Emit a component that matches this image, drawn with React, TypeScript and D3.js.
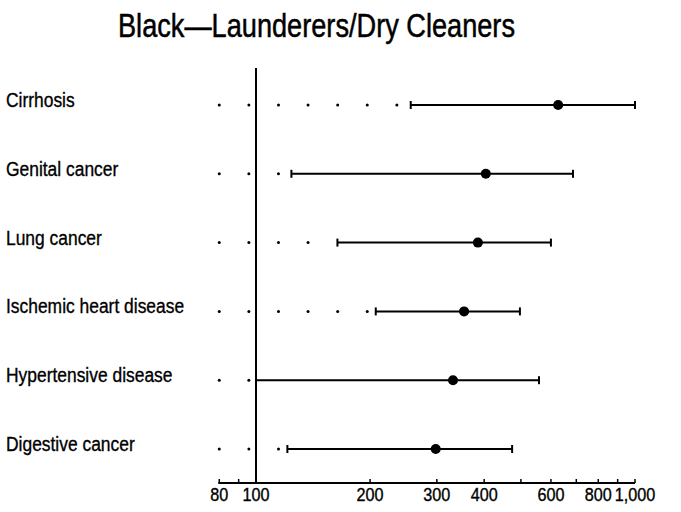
import React, { useEffect, useRef } from "react";
import * as d3 from "d3";

const causes = [
  "Cirrhosis",
  "Genital cancer",
  "Lung cancer",
  "Ischemic heart disease",
  "Hypertensive disease",
  "Digestive cancer",
];
const estimates = [627, 404, 385, 354, 331, 298];
const lowerBounds = [256, 124, 164, 207, 100, 121];
const upperBounds = [1000, 686, 600, 497, 558, 474];

const tickValues = [80, 90, 100, 200, 300, 400, 500, 600, 700, 800, 900, 1000];
const tickLabels = ["80", "100", "200", "300", "400", "600", "800", "1,000"];
const labelValues = [80, 100, 200, 300, 400, 600, 800, 1000];

const title = "Black\u2014Launderers/Dry Cleaners";
const FONT = "'Liberation Sans', Arial, sans-serif";

function App() {
  const ref = useRef<SVGSVGElement>(null);

  useEffect(() => {
    const svg = d3.select(ref.current);
    svg.selectAll("*").remove();

    const x = d3.scaleLog().domain([100, 1000]).range([256, 635]);
    const y = d3.scalePoint<string>().domain(causes).range([105, 449]);
    const axisY = 483;

    // title
    svg.append("text")
      .attr("x", 118)
      .attr("y", 37)
      .attr("font-family", FONT)
      .attr("font-size", 33)
      .attr("stroke", "#000")
      .attr("stroke-width", 0.5)
      .attr("textLength", 397)
      .attr("lengthAdjust", "spacingAndGlyphs")
      .text(title);

    // reference line at 100
    svg.append("line")
      .attr("x1", x(100)).attr("x2", x(100))
      .attr("y1", 68).attr("y2", axisY)
      .attr("stroke", "#000").attr("stroke-width", 2);

    // axis
    svg.append("line")
      .attr("x1", x(80) - 1).attr("x2", x(1000))
      .attr("y1", axisY).attr("y2", axisY)
      .attr("stroke", "#000").attr("stroke-width", 2);

    svg.selectAll(".tick")
      .data(tickValues)
      .join("line")
      .attr("class", "tick")
      .attr("x1", d => x(d)).attr("x2", d => x(d))
      .attr("y1", axisY).attr("y2", axisY - 4)
      .attr("stroke", "#000").attr("stroke-width", 1.5);

    svg.selectAll(".tlabel")
      .data(labelValues)
      .join("g")
      .attr("class", "tlabel")
      .attr("transform", d => `translate(${x(d)},501) scale(0.9,1)`)
      .append("text")
      .attr("text-anchor", "middle")
      .attr("font-family", FONT)
      .attr("font-size", 18)
      .attr("stroke", "#000")
      .attr("stroke-width", 0.35)
      .text((d, i) => tickLabels[i]);

    const rows = causes.map((c, i) => ({
      cause: c,
      est: estimates[i],
      lo: lowerBounds[i],
      hi: upperBounds[i],
    }));

    const g = svg.selectAll(".row").data(rows).join("g").attr("class", "row");

    g.append("g")
      .attr("transform", d => `translate(6,${y(d.cause)! + 2}) scale(0.83,1)`)
      .append("text")
      .attr("font-family", FONT)
      .attr("font-size", 21)
      .attr("stroke", "#000")
      .attr("stroke-width", 0.35)
      .text(d => d.cause);

    // leader dots
    g.each(function (d) {
      const xs = d3.range(x(80), x(d.lo), 29.6);
      d3.select(this).selectAll("circle.lead")
        .data(xs)
        .join("circle")
        .attr("class", "lead")
        .attr("cx", v => v)
        .attr("cy", y(d.cause)!)
        .attr("r", 1.5)
        .attr("fill", "#000");
    });

    g.append("line")
      .attr("x1", d => x(d.lo)).attr("x2", d => x(d.hi))
      .attr("y1", d => y(d.cause)!).attr("y2", d => y(d.cause)!)
      .attr("stroke", "#000").attr("stroke-width", 2);

    g.append("line")
      .attr("x1", d => x(d.lo)).attr("x2", d => x(d.lo))
      .attr("y1", d => y(d.cause)! - 4).attr("y2", d => y(d.cause)! + 4)
      .attr("stroke", "#000").attr("stroke-width", 2);

    g.append("line")
      .attr("x1", d => x(d.hi)).attr("x2", d => x(d.hi))
      .attr("y1", d => y(d.cause)! - 4).attr("y2", d => y(d.cause)! + 4)
      .attr("stroke", "#000").attr("stroke-width", 2);

    g.append("circle")
      .attr("cx", d => x(d.est))
      .attr("cy", d => y(d.cause)!)
      .attr("r", 5)
      .attr("fill", "#000");
  }, []);

  return (
    <div style={{ position: "absolute", left: 0, top: 0 }}>
      <svg ref={ref} width={681} height={512} style={{ display: "block", background: "#fff" }} />
    </div>
  );
}

export default App;
